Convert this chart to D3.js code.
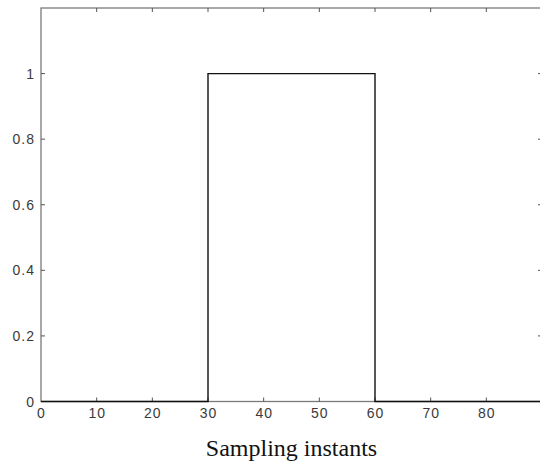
<!DOCTYPE html>
<html>
<head>
<meta charset="utf-8">
<script src="https://cdn.jsdelivr.net/npm/d3@7"></script>
<style>
  body { margin: 0; background: #fff; }
  svg { display: block; }
</style>
</head>
<body>
<div class="chart"></div>
<script>
// pulse signal, corner points of the step
var instants = [0, 30, 30, 60, 60, 90];
var values = [0, 0, 1, 1, 0, 0];
var xTicks = [0, 10, 20, 30, 40, 50, 60, 70, 80];
var yTicks = [0, 0.2, 0.4, 0.6, 0.8, 1];
var xTitle = "Sampling instants";

var width = 540, height = 467;
//plot box edges (right edge falls just outside the picture)
var boxLeft = 41, boxRight = 542, boxTop = 8, boxBottom = 401.5;

var svg = d3.select(".chart").append("svg")
    .attr("width", width)
    .attr("height", height);

var x = d3.scaleLinear().domain([0, 90]).range([boxLeft, boxRight]);
var y = d3.scaleLinear().domain([0, 1.2]).range([boxBottom, boxTop]);

//Box around plot
svg.append("rect")
    .attr("x", boxLeft)
    .attr("y", boxTop)
    .attr("width", boxRight - boxLeft)
    .attr("height", boxBottom - boxTop)
    .attr("fill", "none")
    .attr("stroke", "#7a7a7a")
    .attr("stroke-width", 1.3);

//Inward ticks, bottom and top
var tickLen = 4;
xTicks.forEach(function(t) {
    if (t === 0) return;
    svg.append("line")
        .attr("x1", x(t)).attr("x2", x(t))
        .attr("y1", boxBottom).attr("y2", boxBottom - tickLen)
        .attr("stroke", "#555").attr("stroke-width", 1);
    svg.append("line")
        .attr("x1", x(t)).attr("x2", x(t))
        .attr("y1", boxTop).attr("y2", boxTop + tickLen)
        .attr("stroke", "#555").attr("stroke-width", 1);
});
yTicks.forEach(function(t) {
    if (t === 0) return;
    svg.append("line")
        .attr("x1", boxLeft).attr("x2", boxLeft + tickLen)
        .attr("y1", y(t)).attr("y2", y(t))
        .attr("stroke", "#555").attr("stroke-width", 1);
    svg.append("line")
        .attr("x1", boxRight).attr("x2", boxRight - tickLen)
        .attr("y1", y(t)).attr("y2", y(t))
        .attr("stroke", "#555").attr("stroke-width", 1);
});

//Tick labels
svg.selectAll(".xlab").data(xTicks).enter().append("text")
    .attr("x", function(d) { return x(d) + 0.5; })
    .attr("y", boxBottom + 16.5)
    .attr("text-anchor", "middle")
    .style("font-family", "'Liberation Sans', Arial, sans-serif")
    .style("font-size", "14px")
    .style("letter-spacing", "1px")
    .style("fill", "#3a3a3a")
    .text(function(d) { return d; });

svg.selectAll(".ylab").data(yTicks).enter().append("text")
    .attr("x", boxLeft - 6)
    .attr("y", function(d) { return y(d) + 5; })
    .attr("text-anchor", "end")
    .style("font-family", "'Liberation Sans', Arial, sans-serif")
    .style("font-size", "14px")
    .style("letter-spacing", "1px")
    .style("fill", "#3a3a3a")
    .text(function(d) { return d; });

//The pulse
var line = d3.line()
    .x(function(d, i) { return x(instants[i]); })
    .y(function(d) { return y(d); });

svg.append("path")
    .datum(values)
    .attr("d", line)
    .attr("fill", "none")
    .attr("stroke", "#111")
    .attr("stroke-width", 1.4);

//Axis title
svg.append("text")
    .attr("x", (boxLeft + boxRight) / 2)
    .attr("y", 456)
    .attr("text-anchor", "middle")
    .style("font-family", "'Liberation Serif', 'Times New Roman', serif")
    .style("font-size", "24px")
    .style("fill", "#111")
    .text(xTitle);
</script>
</body>
</html>
